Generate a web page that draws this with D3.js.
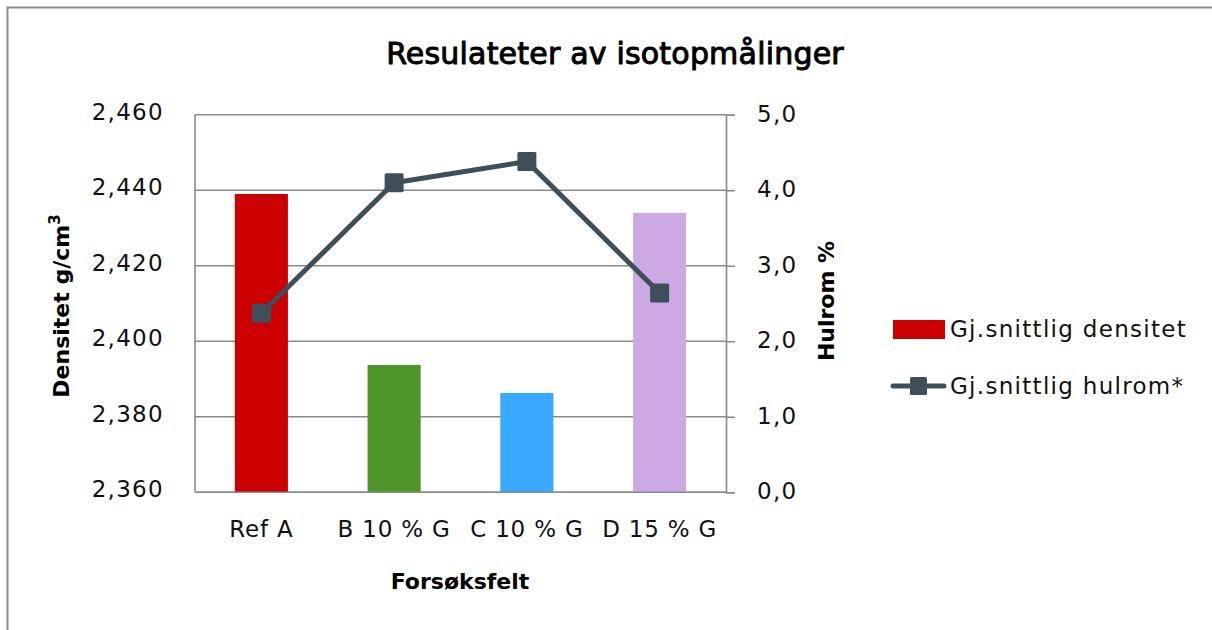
<!DOCTYPE html>
<html>
<head>
<meta charset="utf-8">
<script src="https://cdn.jsdelivr.net/npm/d3@7"></script>
<style>
  html, body { margin: 0; padding: 0; background: #fff; }
  svg { display: block; font-family: "DejaVu Sans", Verdana, sans-serif; }
</style>
</head>
<body>
<svg id="chart" width="1212" height="630"></svg>
<script>
// ---- data ----
const categories = ["Ref A", "B 10 % G", "C 10 % G", "D 15 % G"];
const densitet = [2.439, 2.3937, 2.3863, 2.434];
const hulrom = [2.37, 4.10, 4.38, 2.64];
const barColors = ["#CC0000", "#4E952A", "#38A9FF", "#CBA9E3"];
const leftTicks = [2.36, 2.38, 2.40, 2.42, 2.44, 2.46];
const rightTicks = [0, 1, 2, 3, 4, 5];
const title = "Resulateter av isotopmålinger";
const xTitle = "Forsøksfelt";
const yLeftTitle = "Densitet g/cm";
const yLeftSup = "3";
const yRightTitle = "Hulrom %";
const legendLabels = ["Gj.snittlig densitet", "Gj.snittlig hulrom*"];

// ---- layout ----
const svg = d3.select("#chart");
const plot = { left: 195, right: 726, top: 114.7, bottom: 492.3 };
const gridColor = "#8a8a8a";
const lineColor = "#3F4F5A";

// outer frame (top + left visible)
svg.append("rect").attr("x", 7.5).attr("y", 7.5).attr("width", 1260).attr("height", 700)
  .attr("fill", "none").attr("stroke", "#8a8a8a").attr("stroke-width", 2);

const x = d3.scaleBand().domain(categories).range([plot.left, plot.right])
  .paddingInner(0.6).paddingOuter(0.3);
const yL = d3.scaleLinear().domain([2.36, 2.46]).range([plot.bottom, plot.top]);
const yR = d3.scaleLinear().domain([0, 5]).range([plot.bottom, plot.top]);

const fmtL = v => d3.format(".3f")(v).replace(".", ",");
const fmtR = v => d3.format(".1f")(v).replace(".", ",");

// gridlines
svg.append("g").selectAll("line").data(leftTicks).join("line")
  .attr("x1", plot.left).attr("x2", plot.right)
  .attr("y1", d => yL(d)).attr("y2", d => yL(d))
  .attr("stroke", gridColor).attr("stroke-width", 1.6);

// left axis line
svg.append("line").attr("x1", plot.left).attr("x2", plot.left)
  .attr("y1", plot.top).attr("y2", plot.bottom)
  .attr("stroke", gridColor).attr("stroke-width", 1.6);

// right axis with outer ticks
const rAxis = d3.axisRight(yR).tickValues(rightTicks).tickFormat(fmtR).tickSizeOuter(0).tickSize(9).tickPadding(22);
const gR = svg.append("g").attr("transform", `translate(${plot.right},0)`).call(rAxis);
gR.select(".domain").attr("stroke", gridColor).attr("stroke-width", 1.6);
gR.selectAll(".tick line").attr("stroke", gridColor).attr("stroke-width", 1.6);
gR.selectAll(".tick text").attr("font-size", 23).attr("fill", "#111")
  .attr("font-family", "DejaVu Sans").attr("letter-spacing", 1.3).attr("x", 31).attr("dy", "0.28em");

// left axis labels
const lAxis = d3.axisLeft(yL).tickValues(leftTicks).tickFormat(fmtL).tickSize(0).tickPadding(31);
const gL = svg.append("g").attr("transform", `translate(${plot.left},0)`).call(lAxis);
gL.select(".domain").remove();
gL.selectAll(".tick text").attr("font-size", 23).attr("fill", "#111")
  .attr("font-family", "DejaVu Sans").attr("letter-spacing", 1.3).attr("dy", "0.2em");

// bars
svg.append("g").selectAll("rect").data(categories).join("rect")
  .attr("x", d => x(d)).attr("width", x.bandwidth())
  .attr("y", (d, i) => yL(densitet[i]))
  .attr("height", (d, i) => plot.bottom - yL(densitet[i]))
  .attr("fill", (d, i) => barColors[i]);

// bottom axis line
svg.append("line").attr("x1", plot.left).attr("x2", plot.right)
  .attr("y1", plot.bottom).attr("y2", plot.bottom)
  .attr("stroke", gridColor).attr("stroke-width", 1.6);

// category labels
const bAxis = d3.axisBottom(x).tickSize(0).tickPadding(28);
const gB = svg.append("g").attr("transform", `translate(0,${plot.bottom})`).call(bAxis);
gB.select(".domain").remove();
gB.selectAll(".tick text").attr("font-size", 23).attr("fill", "#111")
  .attr("font-family", "DejaVu Sans").attr("letter-spacing", 0.8);

// line series
const cx = d => x(d) + x.bandwidth() / 2;
const line = d3.line().x((d, i) => cx(categories[i])).y(d => yR(d));
svg.append("path").datum(hulrom).attr("d", line)
  .attr("fill", "none").attr("stroke", lineColor).attr("stroke-width", 5)
  .attr("stroke-linejoin", "round");
const ms = 19;
svg.append("g").selectAll("rect").data(hulrom).join("rect")
  .attr("x", (d, i) => cx(categories[i]) - ms / 2)
  .attr("y", d => yR(d) - ms / 2)
  .attr("width", ms).attr("height", ms).attr("rx", 1.5)
  .attr("fill", lineColor);

// title
svg.append("text").attr("x", 615).attr("y", 64).attr("text-anchor", "middle")
  .attr("font-size", 30).attr("fill", "#000").attr("stroke", "#000").attr("stroke-width", 1)
  .attr("letter-spacing", 0.2).text(title);

// axis titles
svg.append("text").attr("x", 460).attr("y", 589).attr("text-anchor", "middle")
  .attr("font-size", 22).attr("font-weight", "bold").attr("fill", "#000").text(xTitle);
const lt = svg.append("text").attr("transform", "translate(69,306) rotate(-90)").attr("text-anchor", "middle")
  .attr("font-size", 22).attr("font-weight", "bold").attr("fill", "#000");
lt.append("tspan").text(yLeftTitle);
lt.append("tspan").attr("font-size", 15).attr("dy", -9).text(yLeftSup);
svg.append("text").attr("transform", "translate(834,301) rotate(-90)").attr("text-anchor", "middle")
  .attr("font-size", 22).attr("font-weight", "bold").attr("fill", "#000").text(yRightTitle);

// legend
const lg = svg.append("g");
lg.append("rect").attr("x", 893).attr("y", 320).attr("width", 52).attr("height", 19).attr("fill", barColors[0]);
lg.append("text").attr("x", 950).attr("y", 337).attr("font-size", 23).attr("fill", "#111")
  .attr("letter-spacing", 1.3).text(legendLabels[0]);
lg.append("line").attr("x1", 893).attr("x2", 944).attr("y1", 386).attr("y2", 386)
  .attr("stroke", lineColor).attr("stroke-width", 5).attr("stroke-linecap", "round");
lg.append("rect").attr("x", 910).attr("y", 377).attr("width", 17).attr("height", 18).attr("rx", 1.5).attr("fill", lineColor);
lg.append("text").attr("x", 950).attr("y", 394).attr("font-size", 23).attr("fill", "#111")
  .attr("letter-spacing", 1.3).text(legendLabels[1]);
</script>
</body>
</html>
